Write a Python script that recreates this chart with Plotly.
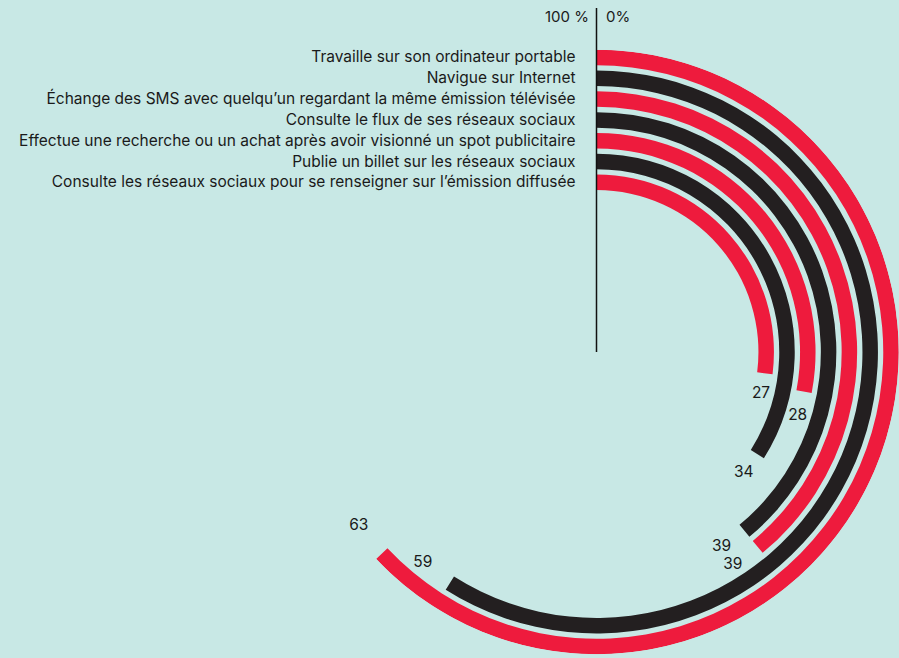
import plotly.graph_objects as go

# données (anneau extérieur -> intérieur)
activites = [
    "Travaille sur son ordinateur portable",
    "Navigue sur Internet",
    "Échange des SMS avec quelqu’un regardant la même émission télévisée",
    "Consulte le flux de ses réseaux sociaux",
    "Effectue une recherche ou un achat après avoir visionné un spot publicitaire",
    "Publie un billet sur les réseaux sociaux",
    "Consulte les réseaux sociaux pour se renseigner sur l’émission diffusée",
]
pourcentages = [63, 59, 39, 39, 28, 34, 27]
couleurs = ["#ee1b3d", "#231f20", "#ee1b3d", "#231f20", "#ee1b3d", "#231f20", "#ee1b3d"]

W, H = 899, 658
cx, cy = 596.5, 352          # centre en pixels (depuis le haut)
R = 302.25                   # rayon exterieur
pas, epaisseur = 20.8, 15.5
fond = "#c8e8e5"
encre = "#1a1a1a"

bords = [R - pas * i for i in range(len(activites))]
bases = [b - epaisseur for b in bords]
milieux = [b - epaisseur / 2 for b in bords]

fig = go.Figure()

fig.add_trace(go.Barpolar(
    r=[epaisseur] * len(activites),
    base=bases,
    theta=[p * 3.6 / 2 for p in pourcentages],
    width=[p * 3.6 for p in pourcentages],
    marker=dict(color=couleurs, line=dict(width=0)),
    hoverinfo="skip",
))

# valeurs au bout des arcs
fig.add_trace(go.Scatterpolar(
    r=milieux,
    theta=[p * 3.6 + 7 for p in pourcentages],
    mode="text",
    text=[str(p) for p in pourcentages],
    textposition="middle center",
    textfont=dict(family="Inter", size=15.5, color=encre),
    hoverinfo="skip",
))

# libelles a gauche de l'axe
fig.add_trace(go.Scatterpolar(
    r=milieux,
    theta=[-21 / m * 57.2958 for m in milieux],
    mode="text",
    text=activites,
    textposition="middle left",
    textfont=dict(family="Inter", size=15.5, color=encre),
    hoverinfo="skip",
))

fig.add_shape(type="line", xref="paper", yref="paper",
              x0=cx / W, x1=cx / W, y0=1 - 8 / H, y1=1 - cy / H,
              line=dict(color="#111111", width=1.5))

fig.add_annotation(x=(cx - 6) / W, y=1 - 16 / H, xref="paper", yref="paper",
                   text="100 %", showarrow=False, xanchor="right", yanchor="middle",
                   font=dict(family="Inter", size=15, color=encre))
fig.add_annotation(x=(cx + 7) / W, y=1 - 16 / H, xref="paper", yref="paper",
                   text="0%", showarrow=False, xanchor="left", yanchor="middle",
                   font=dict(family="Inter", size=15, color=encre))

fig.update_layout(
    width=W, height=H,
    margin=dict(l=0, r=0, t=0, b=0),
    paper_bgcolor=fond, plot_bgcolor=fond,
    showlegend=False,
    polar=dict(
        domain=dict(x=[(cx - R) / W, (cx + R) / W],
                    y=[(H - cy - R) / H, (H - cy + R) / H]),
        bgcolor="rgba(0,0,0,0)",
        hole=0,
        radialaxis=dict(range=[0, R], visible=False),
        angularaxis=dict(visible=False, rotation=90, direction="clockwise"),
    ),
)

fig.write_html("out.html", config={"displayModeBar": False},
               post_script="document.body.style.margin='0';document.body.style.background='%s';" % fond)
